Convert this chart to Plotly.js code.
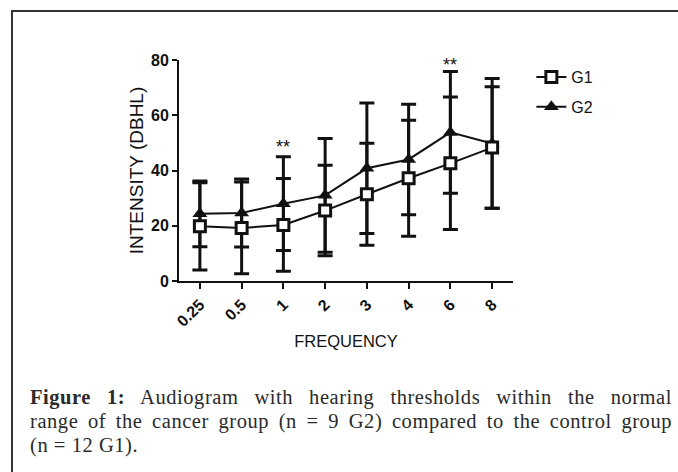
<!DOCTYPE html>
<html>
<head>
<meta charset="utf-8">
<script src="https://cdn.plot.ly/plotly-3.0.1.min.js"></script>
<style>
  html, body { margin: 0; padding: 0; background: #fff; }
  #wrap { position: relative; width: 678px; height: 472px; overflow: hidden; }
  #plot { position: absolute; left: 0; top: 0; width: 678px; height: 472px; }
  #frame { position: absolute; left: 11px; top: 10px; width: 700px; height: 500px;
           border-left: 2px solid #333; border-top: 2px solid #333; pointer-events: none; }
  #caption { position: absolute; left: 30px; top: 385px; width: 642px;
             font-family: "Liberation Serif", "DejaVu Serif", serif; font-size: 20.5px;
             letter-spacing: 0.55px; color: #2a2a2a; line-height: 24px; }
  #caption .j { text-align: justify; text-align-last: justify; white-space: nowrap; }
</style>
</head>
<body>
<div id="wrap">
  <div id="plot"></div>
  <div id="frame"></div>
  <div id="caption">
    <div class="j"><b>Figure 1:</b> Audiogram with hearing thresholds within the normal</div>
    <div class="j">range of the cancer group (n = 9 G2) compared to the control group</div>
    <div>(n = 12 G1).</div>
  </div>
</div>
<script>
const categories = ['0.25', '0.5', '1', '2', '3', '4', '6', '8'];
const g1Mean = [19.8, 19.2, 20.3, 25.5, 31.4, 37.2, 42.6, 48.3];
const g1Sd   = [15.8, 16.6, 16.8, 16.4, 18.5, 21.0, 24.0, 22.0];
const g2Mean = [24.3, 24.6, 28.0, 31.0, 40.8, 44.0, 53.8, 49.8];
const g2Sd   = [11.9, 12.3, 17.0, 20.6, 23.6, 20.0, 22.0, 23.5];
const sigCats = ['1', '6'];
const sigY = [48.6, 78.3];
const yTicks = [0, 20, 40, 60, 80];

const font = 'Liberation Sans, Arial, sans-serif';

const traceG2 = {
  x: categories, y: g2Mean, name: 'G2', type: 'scatter', mode: 'lines+markers',
  legendgroup: 'b', legendrank: 2,
  line: { color: '#111', width: 2 },
  marker: { symbol: 'triangle-up', size: 13, color: '#111' },
  error_y: { type: 'data', array: g2Sd, visible: true, thickness: 3, width: 7.5, color: '#111' }
};
const traceG1 = {
  x: categories, y: g1Mean, name: 'G1', type: 'scatter', mode: 'lines+markers',
  legendgroup: 'a', legendrank: 1,
  line: { color: '#111', width: 2 },
  marker: { symbol: 'square', size: 11, color: '#fff', line: { color: '#111', width: 3 } },
  error_y: { type: 'data', array: g1Sd, visible: true, thickness: 3, width: 7.5, color: '#111' }
};

const annotations = sigCats.map((c, i) => ({
  x: categories.indexOf(c), y: sigY[i], xref: 'x', yref: 'y', text: '**', showarrow: false,
  font: { family: font, size: 18, color: '#111' }, yanchor: 'middle'
}));

const layout = {
  width: 678, height: 472,
  margin: { l: 179, r: 165, t: 60, b: 191 },
  paper_bgcolor: '#fff', plot_bgcolor: '#fff',
  showlegend: true,
  legend: { x: 1.055, y: 1.0, xanchor: 'left', yanchor: 'top', tracegroupgap: 6,
            font: { family: font, size: 16, color: '#111' }, bgcolor: 'rgba(0,0,0,0)' },
  xaxis: {
    type: 'category', range: [-0.5, 7.5], showgrid: false, zeroline: false,
    showline: true, linecolor: '#111', linewidth: 2,
    ticks: 'outside', ticklen: 6, tickwidth: 2, tickcolor: '#111',
    tickangle: -45, tickfont: { family: font, size: 16, color: '#111', weight: 'bold' },
    title: { text: 'FREQUENCY', font: { family: font, size: 16.5, color: '#111' }, standoff: 6 }
  },
  yaxis: {
    range: [0, 80], tickvals: yTicks, showgrid: false, zeroline: false,
    showline: true, linecolor: '#111', linewidth: 2,
    ticks: 'outside', ticklen: 5, tickwidth: 2, tickcolor: '#111',
    tickfont: { family: font, size: 16, color: '#111', weight: 'bold' },
    title: { text: 'INTENSITY (DBHL)', font: { family: font, size: 19, color: '#111' }, standoff: 2 }
  },
  annotations: annotations
};

Plotly.newPlot('plot', [traceG2, traceG1], layout, { staticPlot: true, displayModeBar: false });
</script>
</body>
</html>
